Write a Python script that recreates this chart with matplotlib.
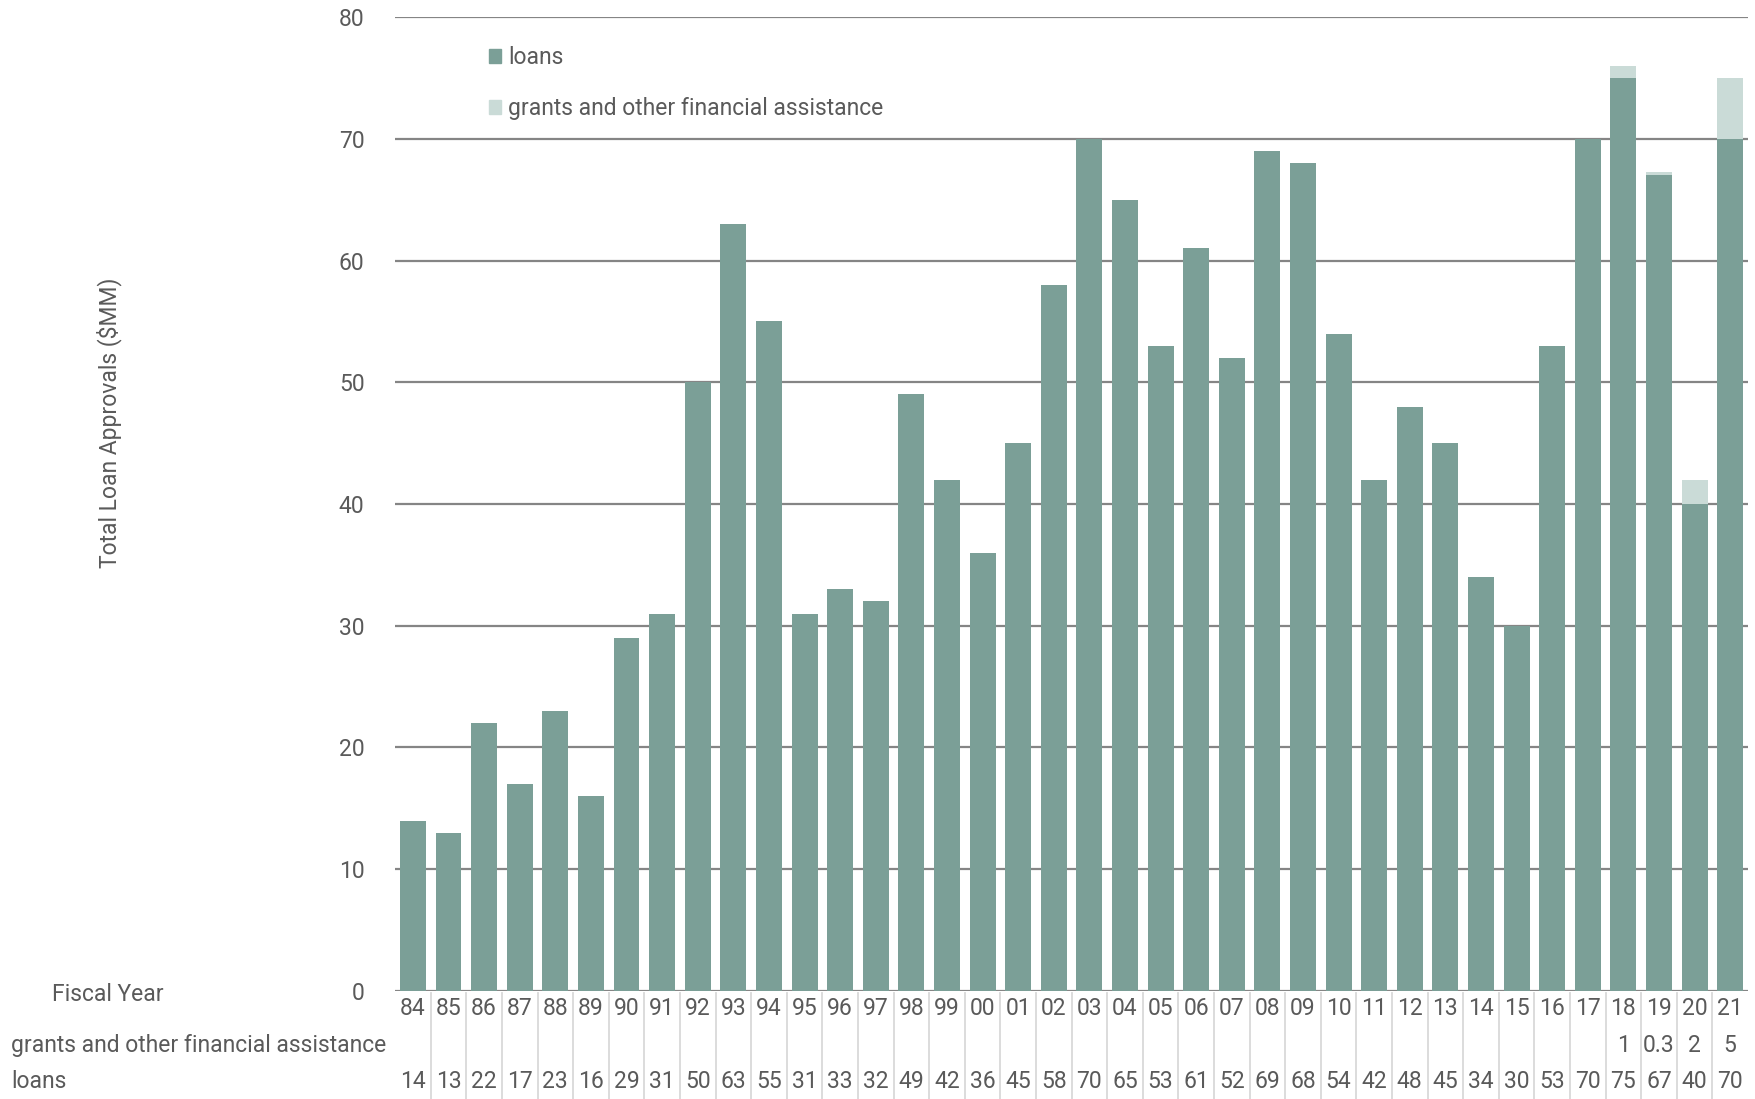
import matplotlib
matplotlib.use("Agg")
import matplotlib.pyplot as plt
import matplotlib.transforms as mtransforms
from matplotlib.patches import Patch

years = ["84", "85", "86", "87", "88", "89", "90", "91", "92", "93", "94", "95", "96",
         "97", "98", "99", "00", "01", "02", "03", "04", "05", "06", "07", "08", "09",
         "10", "11", "12", "13", "14", "15", "16", "17", "18", "19", "20", "21"]
loans = [14, 13, 22, 17, 23, 16, 29, 31, 50, 63, 55, 31, 33, 32, 49, 42, 36, 45, 58,
         70, 65, 53, 61, 52, 69, 68, 54, 42, 48, 45, 34, 30, 53, 70, 75, 67, 40, 70]
grants = [0] * 34 + [1, 0.3, 2, 5]
grant_labels = [""] * 34 + ["1", "0.3", "2", "5"]
yticks = [0, 10, 20, 30, 40, 50, 60, 70, 80]

LOAN_C = "#7b9f97"
GRANT_C = "#cadbd7"
TXT = "#5a5a5a"
GRID = "#858585"
FS = 16.5

plt.rcParams['font.family'] = ['Roboto', 'DejaVu Sans']
plt.rcParams['font.weight'] = 'normal'

fig = plt.figure(figsize=(17.56, 10.99), dpi=100)
ax = fig.add_axes([0.225, 0.0983, 0.7704, 0.8862])

x = list(range(len(years)))
ax.bar(x, loans, width=0.73, color=LOAN_C, zorder=3, label="loans")
ax.bar(x, grants, width=0.73, bottom=loans, color=GRANT_C, zorder=3,
       label="grants and other financial assistance")

ax.set_xlim(-0.5, len(years) - 0.5)
ax.set_ylim(0, 80)
ax.set_yticks(yticks)
ax.set_yticklabels([str(v) for v in yticks])
ax.yaxis.grid(True, color=GRID, linewidth=1.6, zorder=1)
ax.set_axisbelow(True)
for s in ax.spines.values():
    s.set_visible(False)
ax.tick_params(axis='y', length=0, pad=22, labelsize=FS, labelcolor=TXT)
ax.set_xticks([])

blend = mtransforms.blended_transform_factory(ax.transData, fig.transFigure)
row_y = {"year": 0.0819, "grant": 0.0491, "loan": 0.0155}
for i in x:
    ax.text(i, row_y["year"], years[i], transform=blend, ha='center', va='center',
            fontsize=FS, color=TXT, clip_on=False)
    ax.text(i, row_y["grant"], grant_labels[i], transform=blend, ha='center', va='center',
            fontsize=FS, color=TXT, clip_on=False)
    ax.text(i, row_y["loan"], str(loans[i]), transform=blend, ha='center', va='center',
            fontsize=FS, color=TXT, clip_on=False)
for i in x[:-1]:
    ax.plot([i + 0.5, i + 0.5], [0.0965, 0.0], transform=blend, color="#d9d9d9",
            linewidth=1.3, clip_on=False)

fig.text(0.0615, 0.0955, "Fiscal Year", ha='center', va='center', fontsize=FS, color=TXT)
fig.text(0.0063, row_y["grant"], "grants and other financial assistance", ha='left',
         va='center', fontsize=FS, color=TXT)
fig.text(0.0063, row_y["loan"], "loans", ha='left', va='center', fontsize=FS, color=TXT)
fig.text(0.062, 0.615, "Total Loan Approvals ($MM)", rotation=90, ha='center',
         va='center', fontsize=FS, color=TXT)

handles = [Patch(color=LOAN_C, label="loans"),
           Patch(color=GRANT_C, label="grants and other financial assistance")]
leg = ax.legend(handles=handles, loc='upper left', bbox_to_anchor=(0.054, 0.991),
                frameon=False, fontsize=FS, handlelength=0.55, handleheight=0.55,
                handletextpad=0.3, labelspacing=1.2, labelcolor=TXT)

fig.savefig("out.png", dpi=100)
